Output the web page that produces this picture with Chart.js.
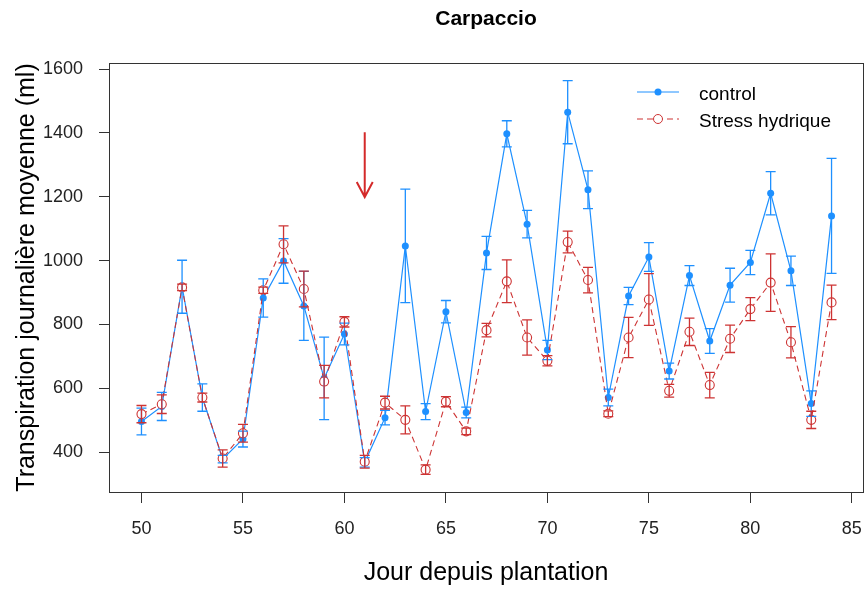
<!DOCTYPE html>
<html>
<head>
<meta charset="utf-8">
<script src="https://cdn.jsdelivr.net/npm/chart.js@4.4.0/dist/chart.umd.min.js"></script>
<style>
  body { margin: 0; background: #fff; }
  #wrap { width: 866px; height: 590px; }
</style>
</head>
<body>
<div id="wrap"><canvas id="chart"></canvas></div>
<script>
// Data
const days = [50, 51, 52, 53, 54, 55, 56, 57, 58, 59, 60, 61, 62, 63, 64, 65, 66,
              67, 68, 69, 70, 71, 72, 73, 74, 75, 76, 77, 78, 79, 80, 81, 82, 83, 84];
const controlMean = [496, 543, 918, 571, 378, 441, 883, 999, 858, 631, 770, 368, 508, 1046, 527, 840, 524,
                     1024, 1397, 1114, 720, 1465, 1222, 571, 889, 1011, 654, 953, 748, 923, 994, 1211, 968, 552, 1140];
const controlSe = [42, 44, 83, 43, 12, 25, 60, 70, 108, 129, 34, 15, 23, 178, 25, 35, 17,
                   52, 41, 43, 30, 99, 59, 26, 27, 45, 25, 31, 39, 53, 38, 68, 46, 40, 180];
const stressMean = [519, 550, 916, 571, 380, 459, 907, 1051, 911, 621, 808, 370, 555, 501, 345, 558, 465,
                    782, 935, 759, 686, 1058, 939, 520, 759, 878, 592, 777, 610, 755, 848, 931, 744, 501, 869];
const stressSe = [27, 29, 10, 14, 27, 28, 10, 58, 56, 51, 16, 20, 20, 44, 15, 16, 10,
                  21, 67, 55, 16, 34, 40, 9, 63, 81, 20, 43, 40, 43, 36, 90, 49, 27, 54];
const xTicks = [50, 55, 60, 65, 70, 75, 80, 85];
const yTicks = [400, 600, 800, 1000, 1200, 1400, 1600];

// stress start marker (arrow)
const arrowDay = 61;
const arrowFrom = 1402;
const arrowTo = 1199;

const BLUE = '#1e90ff';
const RED = '#cd3333';
const FONT = '"Liberation Sans", Arial, sans-serif';

function toXY(arr) {
    return days.map((d, i) => ({ x: d, y: arr[i] }));
}

// error bars, arrow, frame, title and legend
const extras = {
    id: 'extras',
    afterDatasetsDraw(chart) {
        const ctx = chart.ctx;
        const xs = chart.scales.x, ys = chart.scales.y;
        const area = chart.chartArea;

        const bars = [
            { mean: controlMean, se: controlSe, color: BLUE },
            { mean: stressMean, se: stressSe, color: RED }
        ];
        ctx.save();
        ctx.lineWidth = 1.3;
        bars.forEach(b => {
            ctx.strokeStyle = b.color;
            days.forEach((d, i) => {
                const px = xs.getPixelForValue(d);
                const top = ys.getPixelForValue(b.mean[i] + b.se[i]);
                const bot = ys.getPixelForValue(b.mean[i] - b.se[i]);
                ctx.beginPath();
                ctx.moveTo(px, top); ctx.lineTo(px, bot);
                ctx.moveTo(px - 5, top); ctx.lineTo(px + 5, top);
                ctx.moveTo(px - 5, bot); ctx.lineTo(px + 5, bot);
                ctx.stroke();
            });
        });

        // arrow
        const ax = xs.getPixelForValue(arrowDay);
        const a0 = ys.getPixelForValue(arrowFrom);
        const a1 = ys.getPixelForValue(arrowTo);
        ctx.strokeStyle = '#d42a2a';
        ctx.lineWidth = 2;
        ctx.beginPath();
        ctx.moveTo(ax, a0); ctx.lineTo(ax, a1);
        ctx.moveTo(ax - 8, a1 - 15); ctx.lineTo(ax, a1); ctx.lineTo(ax + 8, a1 - 15);
        ctx.stroke();

        // frame
        ctx.strokeStyle = '#333';
        ctx.lineWidth = 1;
        ctx.strokeRect(Math.round(area.left) + 0.5, Math.round(area.top) + 0.5,
                       Math.round(area.right - area.left), Math.round(area.bottom - area.top));

        // title
        ctx.fillStyle = '#000';
        ctx.font = 'bold 21px ' + FONT;
        ctx.textAlign = 'center';
        ctx.textBaseline = 'middle';
        ctx.fillText('Carpaccio', (area.left + area.right) / 2, 19);

        // legend
        const lx = area.right - 226, tx = area.right - 164;
        ctx.font = '19px ' + FONT;
        ctx.textAlign = 'left';
        chart.data.datasets.forEach((ds, k) => {
            const ly = area.top + 29 + k * 27;
            ctx.strokeStyle = ds.borderColor;
            ctx.lineWidth = 1;
            ctx.setLineDash(ds.borderDash || []);
            ctx.beginPath();
            ctx.moveTo(lx, ly); ctx.lineTo(lx + 42, ly);
            ctx.stroke();
            ctx.setLineDash([]);
            ctx.beginPath();
            ctx.arc(lx + 21, ly, ds.pointRadius, 0, Math.PI * 2);
            if (ds.pointBackgroundColor !== '#fff') {
                ctx.fillStyle = ds.pointBackgroundColor;
                ctx.fill();
            } else {
                ctx.fillStyle = '#fff';
                ctx.fill();
                ctx.stroke();
            }
            ctx.fillStyle = '#000';
            ctx.fillText(ds.label, tx, ly + 3);
        });
        ctx.restore();
    }
};

new Chart(document.getElementById('chart'), {
    type: 'line',
    data: {
        datasets: [
            {
                label: 'control',
                data: toXY(controlMean),
                borderColor: BLUE,
                borderWidth: 1.2,
                pointRadius: 3.5,
                pointBackgroundColor: BLUE,
                pointBorderColor: BLUE,
                pointBorderWidth: 0,
                order: 2
            },
            {
                label: 'Stress hydrique',
                data: toXY(stressMean),
                borderColor: RED,
                borderWidth: 1.1,
                borderDash: [6, 4],
                pointRadius: 4.5,
                pointBackgroundColor: '#fff',
                pointBorderColor: RED,
                pointBorderWidth: 1.1,
                order: 1
            }
        ]
    },
    options: {
        responsive: true,
        maintainAspectRatio: false,
        animation: false,
        layout: { autoPadding: false, padding: { top: 63, right: 3, left: 0, bottom: 0 } },
        plugins: {
            legend: { display: false },
            tooltip: { enabled: false },
            title: { display: false }
        },
        scales: {
            x: {
                type: 'linear',
                min: 48.4,
                max: 85.55,
                afterBuildTicks: s => { s.ticks = xTicks.map(v => ({ value: v })); },
                afterFit: s => { s.height = 98; s.paddingLeft = 0; s.paddingRight = 0; },
                border: { display: false },
                grid: { drawOnChartArea: false, drawTicks: true, tickLength: 11, color: '#333' },
                ticks: { color: '#222', font: { family: FONT, size: 18 }, padding: 15, autoSkip: false, maxRotation: 0 },
                title: { display: true, text: 'Jour depuis plantation', color: '#000',
                         font: { family: FONT, size: 25 }, padding: { top: 0, bottom: 2 } }
            },
            y: {
                min: 275,
                max: 1619,
                afterBuildTicks: s => { s.ticks = yTicks.map(v => ({ value: v })); },
                afterFit: s => { s.width = 109; s.paddingTop = 0; s.paddingBottom = 0; },
                border: { display: false },
                grid: { drawOnChartArea: false, drawTicks: true, tickLength: 10, color: '#333' },
                ticks: { color: '#222', font: { family: FONT, size: 18 }, padding: 16,
                         callback: v => String(v) },
                title: { display: true, text: 'Transpiration journalière moyenne (ml)', color: '#000',
                         font: { family: FONT, size: 25 }, padding: { top: 12, bottom: 0 } }
            }
        }
    },
    plugins: [extras]
});
</script>
</body>
</html>
